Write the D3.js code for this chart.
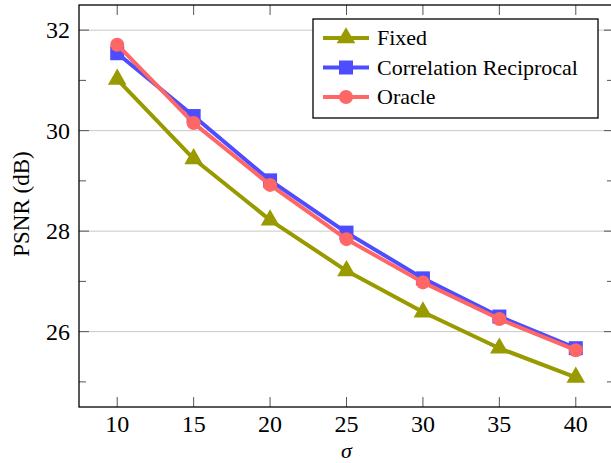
<!DOCTYPE html>
<html>
<head>
<meta charset="utf-8">
<script src="https://cdn.jsdelivr.net/npm/d3@7"></script>
<style>
  body { margin: 0; background: #fff; }
</style>
</head>
<body>
<div class="chart"></div>
<script>
const sigma = [10, 15, 20, 25, 30, 35, 40];
const fixed = [31.02, 29.44, 28.22, 27.21, 26.39, 25.67, 25.09];
const corrRecip = [31.54, 30.29, 29.01, 27.97, 27.06, 26.30, 25.67];
const oracle = [31.71, 30.15, 28.92, 27.84, 26.98, 26.25, 25.63];
const yMajor = [26, 28, 30, 32];
const yMinor = [25, 27, 29, 31];

const seriesList = [
    {name: 'Fixed', values: fixed, color: '#999900', marker: 'triangle'},
    {name: 'Correlation Reciprocal', values: corrRecip, color: '#4d4dff', marker: 'square'},
    {name: 'Oracle', values: oracle, color: '#ff6666', marker: 'circle'},
];

const W = 611, H = 463;
const margin = {top: 5, right: -3, bottom: 56, left: 79};
const width = W - margin.left - margin.right;
const height = H - margin.top - margin.bottom;
const serif = "'Liberation Serif'";

const svg = d3.select('.chart').append('svg')
    .attr('width', W)
    .attr('height', H)
    .append('g')
    .attr('transform', 'translate(' + margin.left + ',' + margin.top + ')');

const x = d3.scaleLinear().domain([7.5, 42.5]).range([0, width]);
const y = d3.scaleLinear().domain([24.5, 32.5]).range([height, 0]);

// grid lines
svg.selectAll('.grid').data(yMajor).enter().append('line')
    .attr('x1', 0).attr('x2', width)
    .attr('y1', d => y(d)).attr('y2', d => y(d))
    .attr('stroke', '#c8c8c8').attr('stroke-width', 1);

// ticks (inward, on all sides)
const tickColor = '#555';
sigma.forEach(s => {
    svg.append('line').attr('x1', x(s)).attr('x2', x(s)).attr('y1', height).attr('y2', height - 10)
        .attr('stroke', tickColor);
    svg.append('line').attr('x1', x(s)).attr('x2', x(s)).attr('y1', 0).attr('y2', 10)
        .attr('stroke', tickColor);
});
yMajor.forEach(v => {
    svg.append('line').attr('x1', 0).attr('x2', 10).attr('y1', y(v)).attr('y2', y(v)).attr('stroke', tickColor);
    svg.append('line').attr('x1', width).attr('x2', width - 10).attr('y1', y(v)).attr('y2', y(v)).attr('stroke', tickColor);
});
yMinor.forEach(v => {
    svg.append('line').attr('x1', 0).attr('x2', 7).attr('y1', y(v)).attr('y2', y(v)).attr('stroke', tickColor);
    svg.append('line').attr('x1', width).attr('x2', width - 7).attr('y1', y(v)).attr('y2', y(v)).attr('stroke', tickColor);
});

// frame
svg.append('rect')
    .attr('width', width).attr('height', height)
    .attr('fill', 'none').attr('stroke', '#000').attr('stroke-width', 1.3);

// tick labels
svg.selectAll('.xl').data(sigma).enter().append('text')
    .attr('x', d => x(d)).attr('y', height + 25)
    .attr('text-anchor', 'middle')
    .style('font-family', serif)
    .attr('font-size', 24)
    .text(d => d);
svg.selectAll('.yl').data(yMajor).enter().append('text')
    .attr('x', -9).attr('y', d => y(d) + 8)
    .attr('text-anchor', 'end')
    .style('font-family', serif)
    .attr('font-size', 24)
    .text(d => d);

// axis labels
svg.append('text')
    .attr('x', x(25)).attr('y', height + 51)
    .attr('text-anchor', 'middle')
    .style('font-family', serif)
    .attr('font-size', 22).attr('font-style', 'italic')
    .text('σ');
svg.append('text')
    .attr('transform', 'translate(' + (-50) + ',' + (height / 2 - 2) + ') rotate(-90)')
    .attr('text-anchor', 'middle')
    .style('font-family', serif)
    .attr('font-size', 23)
    .text('PSNR (dB)');

const drawMarker = (g, type, cx, cy, color) => {
    if (type === 'triangle') {
        g.append('path')
            .attr('d', d3.symbol().type(d3.symbolTriangle).size(150)())
            .attr('transform', 'translate(' + cx + ',' + cy + ')')
            .attr('fill', color);
    } else if (type === 'square') {
        g.append('rect')
            .attr('x', cx - 7).attr('y', cy - 7)
            .attr('width', 14).attr('height', 14)
            .attr('fill', color);
    } else {
        g.append('circle').attr('cx', cx).attr('cy', cy).attr('r', 7).attr('fill', color);
    }
};

const line = d3.line().x(d => x(d[0])).y(d => y(d[1]));

seriesList.forEach(s => {
    const pts = sigma.map((v, i) => [v, s.values[i]]);
    svg.append('path')
        .datum(pts)
        .attr('fill', 'none')
        .attr('stroke', s.color)
        .attr('stroke-width', 4)
        .attr('stroke-linejoin', 'round')
        .attr('d', line);
    const g = svg.append('g');
    pts.forEach(p => drawMarker(g, s.marker, x(p[0]), y(p[1]), s.color));
});

// legend
const lx = 313 - margin.left, ly = 19 - margin.top;
const legend = svg.append('g').attr('transform', 'translate(' + lx + ',' + ly + ')');
legend.append('rect')
    .attr('width', 285).attr('height', 99)
    .attr('fill', '#fff').attr('stroke', '#000').attr('stroke-width', 1.3);
seriesList.forEach((s, i) => {
    const cy = 19 + i * 29.5;
    legend.append('line')
        .attr('x1', 10).attr('x2', 56).attr('y1', cy).attr('y2', cy)
        .attr('stroke', s.color).attr('stroke-width', 4);
    drawMarker(legend, s.marker, 33, cy, s.color);
    legend.append('text')
        .attr('x', 64).attr('y', cy + 7)
        .style('font-family', serif)
        .attr('font-size', 22)
        .text(s.name);
});
</script>
</body>
</html>
